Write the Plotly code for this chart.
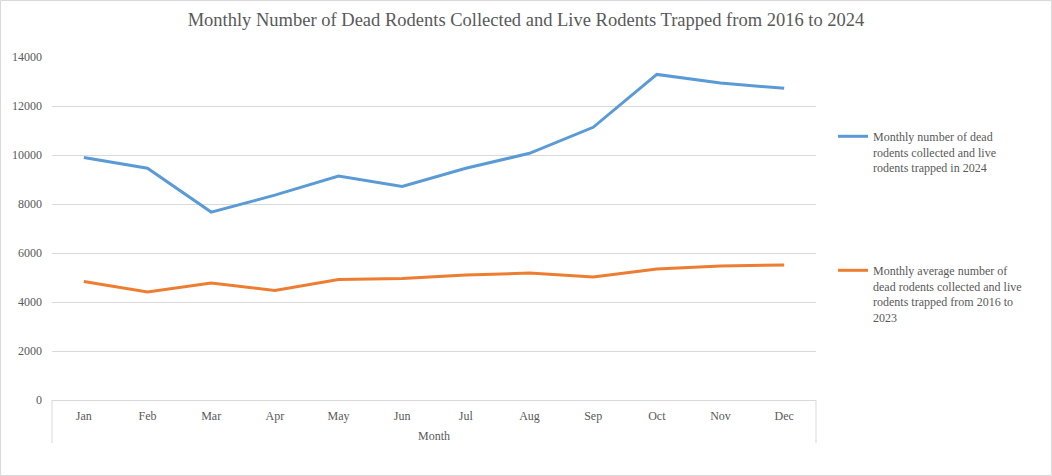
import plotly.graph_objects as go

months = ["Jan", "Feb", "Mar", "Apr", "May", "Jun", "Jul", "Aug", "Sep", "Oct", "Nov", "Dec"]
rodents_2024 = [9900, 9460, 7670, 8360, 9140, 8720, 9460, 10070, 11130, 13290, 12940, 12720]
avg_2016_2023 = [4840, 4410, 4780, 4470, 4920, 4960, 5100, 5180, 5020, 5350, 5470, 5510]

name_2024 = "Monthly number of dead<br>rodents collected and live<br>rodents trapped in 2024"
name_avg = "Monthly average number of<br>dead rodents collected and live<br>rodents trapped from 2016 to<br>2023"

W, H = 1052, 476
L, R, T, B = 52, 816, 57, 400
FONT = "Liberation Serif"
GREY = "#595959"

fig = go.Figure()
fig.add_trace(go.Scatter(x=months, y=rodents_2024, mode="lines", name=name_2024,
                         line=dict(color="#5B9BD5", width=3), legend="legend"))
fig.add_trace(go.Scatter(x=months, y=avg_2016_2023, mode="lines", name=name_avg,
                         line=dict(color="#ED7D31", width=3), legend="legend2"))

pw, ph = R - L, B - T
def px(x):
    return (x - L) / pw
def py(y):
    return (B - y) / ph

shapes = [
    dict(type="rect", xref="paper", yref="paper", x0=px(0.5), x1=px(W - 0.5), y0=py(H - 0.5), y1=py(0.5),
         line=dict(color="#d9d9d9", width=1), layer="below"),
    dict(type="line", xref="paper", yref="paper", x0=0, x1=0, y0=0, y1=py(443),
         line=dict(color="#d9d9d9", width=1)),
    dict(type="line", xref="paper", yref="paper", x0=1, x1=1, y0=0, y1=py(443),
         line=dict(color="#d9d9d9", width=1)),
]

legend_common = dict(xref="container", yref="container", xanchor="left", yanchor="top",
                     font=dict(family=FONT, size=12, color=GREY), itemwidth=30, valign="top",
                     bgcolor="rgba(0,0,0,0)", borderwidth=0)

fig.update_layout(
    width=W, height=H,
    margin=dict(l=L, r=W - R, t=T, b=H - B),
    paper_bgcolor="white", plot_bgcolor="white",
    title=dict(text="Monthly Number of Dead Rodents Collected and Live Rodents Trapped from 2016 to 2024",
               x=0.5, xref="container", xanchor="center", y=1 - 20 / H, yref="container", yanchor="middle",
               font=dict(family=FONT, size=18.5, color=GREY)),
    xaxis=dict(type="category", range=[-0.5, 11.5], showgrid=False, showline=True, linecolor="#d9d9d9",
               linewidth=1, ticks="", tickfont=dict(family=FONT, size=12, color=GREY),
               ticklabelstandoff=5,
               title=dict(text="Month", font=dict(family=FONT, size=12, color=GREY), standoff=9),
               fixedrange=True),
    yaxis=dict(range=[0, 14000], dtick=2000, showgrid=True, gridcolor="#d9d9d9", gridwidth=1,
               zeroline=False, showline=False, ticks="", tickformat="d",
               tickfont=dict(family=FONT, size=12, color=GREY), ticklabelstandoff=9),
    showlegend=True,
    legend=dict(x=833 / W, y=1 - 122 / H, **legend_common),
    legend2=dict(x=833 / W, y=1 - 256 / H, **legend_common),
    shapes=shapes,
)

fig.write_html("out.html", config={"displayModeBar": False},
               post_script="document.body.style.margin='0';")
